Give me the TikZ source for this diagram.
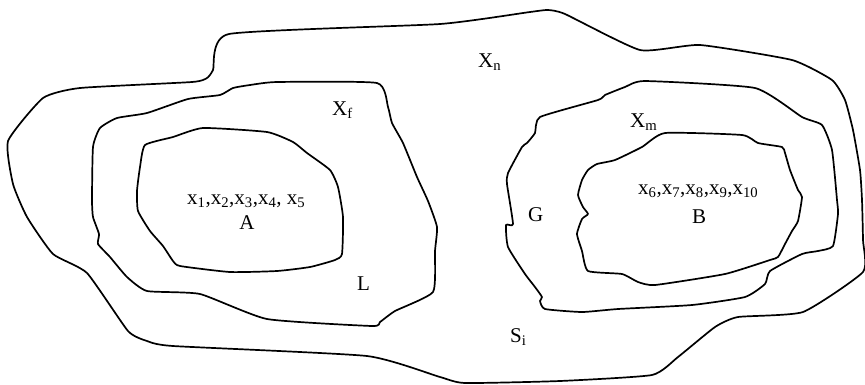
\documentclass[tikz,border=0pt]{standalone}
\usepackage{fontspec}
\setmainfont{Liberation Serif}
\begin{document}
\begin{tikzpicture}[x=1pt, y=-1pt,
    region/.style={line width=1.7pt, line join=round},
    lbl/.style={font=\fontsize{21}{25}\selectfont, inner sep=0pt, anchor=base west},
    clbl/.style={lbl, anchor=base}]
    \useasboundingbox (0,0) rectangle (865,384);

    % Outer region X_n
    \draw[region] plot[smooth cycle, tension=0.3] coordinates {
        (8,141) (43,98) (80,88) (192,82) (207,78) (213,70) (229,34) (440,24)
        (530,12) (548,10) (565,14) (640,50) (700,45) (792,60) (832,80) (845,100)
        (853,130) (860,170) (862,200) (863,240) (863,272) (803,312) (738,317)
        (715,327) (678,357) (652,375) (560,381) (465,383) (440,377) (367,356)
        (173,346) (147,341) (128,331) (87,273) (53,254) (27,217) (13,184)};

    % Left region X_f
    \draw[region] plot[smooth cycle, tension=0.3] coordinates {
        (377,83) (277,82) (250,85) (233,88) (220,95) (188,99) (147,113)
        (117,118) (100,128) (93,147) (92,200) (93,217) (99,234) (98,244)
        (110,257) (127,277) (147,291) (200,294) (267,319) (372,326) (380,322)
        (395,311) (433,292) (435,251) (437,227) (428,201) (417,177) (403,143)
        (392,123) (388,107)};

    % Inner region A
    \draw[region] plot[smooth cycle, tension=0.3] coordinates {
        (145,145) (173,137) (203,128) (267,132) (293,142) (307,153) (330,170)
        (338,187) (343,217) (342,254) (335,260) (310,267) (277,271) (230,272)
        (180,266) (173,261) (163,246) (150,231) (138,211) (137,191) (140,167)};

    % Right region X_m
    \draw[region] plot[smooth cycle, tension=0.3] coordinates {
        (540,117) (598,100) (605,95) (625,87) (645,81) (755,88) (802,117)
        (822,125) (832,150) (837,200) (838,214) (833,246) (818,251) (802,254)
        (770,271) (765,284) (745,297) (692,305) (618,309) (582,312) (545,309)
        (540,301) (542,297) (535,287) (525,274) (508,247) (506,225) (513,224)
        (507,184) (508,173) (522,147) (527,143) (535,133)};

    % Inner region B
    \draw[region] plot[smooth cycle, tension=0.3] coordinates {
        (588,170) (597,164) (615,160) (642,147) (665,133) (742,135) (758,143)
        (782,147) (785,153) (790,170) (798,190) (802,197) (798,221) (792,231)
        (785,244) (778,257) (770,260) (725,274) (655,285) (638,282) (622,274)
        (588,271) (582,251) (577,234) (582,219) (588,214) (583,207) (578,195)
        (582,180)};

    % Labels
    \node[lbl] (xn) at (478,67) {X\textsubscript{n}};
    \node[lbl] (xf) at (332,115) {X\textsubscript{f}};
    \node[lbl] (xm) at (630,127) {X\textsubscript{m}};
    \node[lbl] (pa) at (187,204) {x\textsubscript{1},x\textsubscript{2},x\textsubscript{3},x\textsubscript{4}, x\textsubscript{5}};
    \node[clbl] (a) at (247,229) {A};
    \node[lbl] (pb) at (638,194) {x\textsubscript{6},x\textsubscript{7},x\textsubscript{8},x\textsubscript{9},x\textsubscript{10}};
    \node[clbl] (b) at (699,223) {B};
    \node[lbl] (l) at (357,290) {L};
    \node[lbl] (g) at (528,221) {G};
    \node[lbl] (si) at (510,342) {S\textsubscript{i}};
\end{tikzpicture}
\end{document}
